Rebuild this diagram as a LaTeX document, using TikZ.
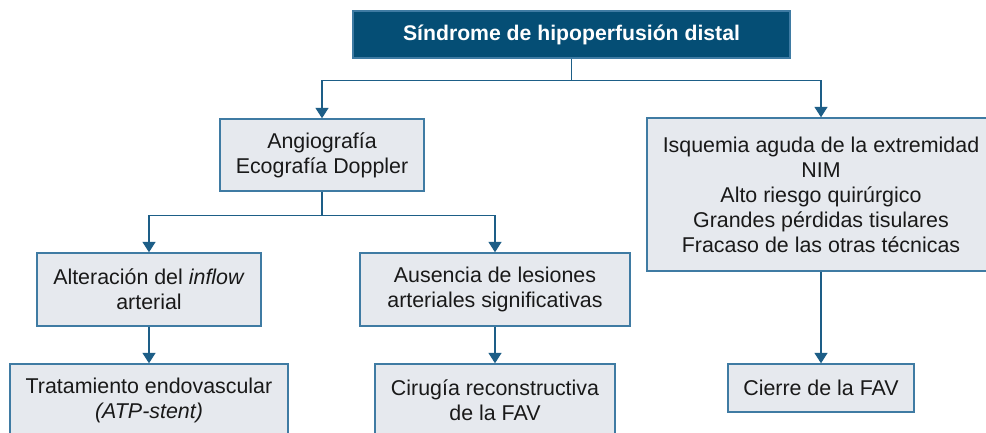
\documentclass[tikz,border=0pt]{standalone}
\usepackage{fontspec}
\setmainfont{Liberation Sans}
\usetikzlibrary{arrows.meta,calc}
\definecolor{topblue}{HTML}{054E75}
\definecolor{linkblue}{HTML}{1D5E87}
\definecolor{boxborder}{HTML}{3F7BA3}
\definecolor{boxfill}{HTML}{E6E9EE}
\tikzset{
  box/.style={draw=boxborder, fill=boxfill, line width=1.4pt, align=center,
    inner sep=0pt, font=\fontsize{21.4}{25}\selectfont, text=black!90},
  topbox/.style={draw=boxborder, fill=topblue, line width=1.4pt, align=center,
    inner sep=0pt, font=\fontsize{21.2}{25}\selectfont\bfseries, text=white},
  arr/.style={draw=linkblue, line width=1.5pt, -{Triangle[width=13pt,length=10.5pt]}},
  lnk/.style={draw=linkblue, line width=1.5pt}
}
\begin{document}
\begin{tikzpicture}[x=1pt,y=-1pt]
\useasboundingbox (0,0) rectangle (986,432);
\clip (0,0) rectangle (986,432);
\fill[white] (0,0) rectangle (986,432);
\node[topbox, minimum width=437pt, minimum height=47pt] (top) at (571.5,34.5) {Síndrome de hipoperfusión distal};
\node[box, minimum width=204pt, minimum height=72pt] (angio) at (322,155) {Angiografía\\Ecografía Doppler};
\node[box, minimum width=348pt, minimum height=153pt] (isq) at (821,194.5) {Isquemia aguda de la extremidad\\NIM\\Alto riesgo quirúrgico\\Grandes pérdidas tisulares\\Fracaso de las otras técnicas};
\node[box, minimum width=224pt, minimum height=73pt] (alt) at (149,289.5) {Alteración del \textit{inflow}\\arterial};
\node[box, minimum width=270pt, minimum height=73pt] (aus) at (495,289.5) {Ausencia de lesiones\\arteriales significativas};
\node[box, minimum width=278pt, minimum height=73pt] (trat) at (149,400.5) {Tratamiento endovascular\\\textit{(ATP-stent)}};
\node[box, minimum width=240pt, minimum height=73pt] (cir) at (495,400.5) {Cirugía reconstructiva\\de la FAV};
\node[box, minimum width=186pt, minimum height=48pt] (cie) at (821,388) {Cierre de la FAV};
\coordinate (j1) at ($(top.south)+(0,22)$);
\coordinate (j2) at ($(angio.south)+(0,24)$);
\draw[lnk] (top.south) -- (j1);
\draw[arr] (j1) -| (angio.north);
\draw[arr] (j1) -| (isq.north);
\draw[lnk] (angio.south) -- (j2);
\draw[arr] (j2) -| (alt.north);
\draw[arr] (j2) -| (aus.north);
\draw[arr] (alt) -- (trat);
\draw[arr] (aus) -- (cir);
\draw[arr] (isq.south) -- (cie.north);
\end{tikzpicture}
\end{document}
